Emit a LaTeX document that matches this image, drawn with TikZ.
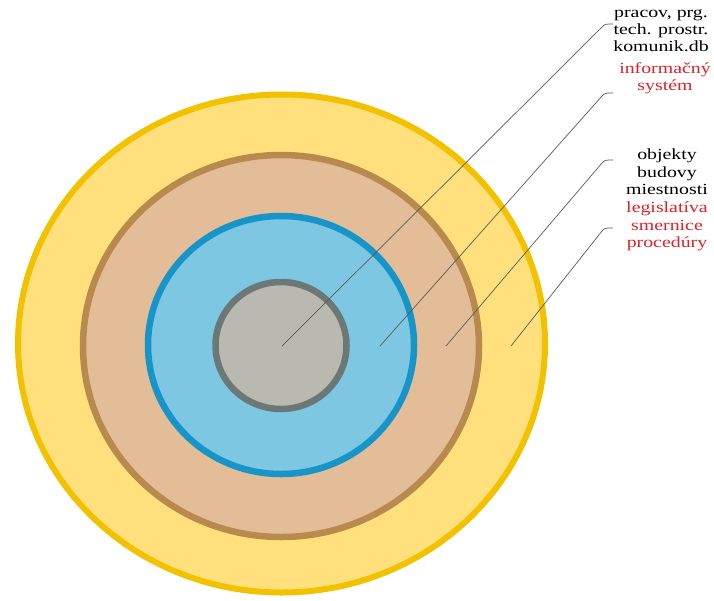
\documentclass[tikz,border=0pt]{standalone}
\usepackage{fontspec}
\setmainfont{Liberation Serif}[FakeStretch=1.28]
\definecolor{ylwfill}{HTML}{FFE07C}
\definecolor{ylwdraw}{HTML}{F2C200}
\definecolor{brnfill}{HTML}{E2BD98}
\definecolor{brndraw}{HTML}{B98A4E}
\definecolor{blufill}{HTML}{7DC7E2}
\definecolor{bludraw}{HTML}{1895C8}
\definecolor{gryfill}{HTML}{B9B9AF}
\definecolor{grydraw}{HTML}{6B7876}
\definecolor{lbred}{HTML}{E0202A}
\definecolor{leadcol}{HTML}{5A5A5A}
\tikzset{
  ring/.style={line width=#1},
  leader/.style={draw=leadcol, line width=0.7pt},
  lbl/.style={font=\fontsize{15.5}{17.4}\selectfont, align=center, inner sep=0pt, anchor=north}
}
\begin{document}
\begin{tikzpicture}[x=1pt,y=-1pt]
\useasboundingbox[fill=white] (0,0) rectangle (714,600);
\draw[ring=6pt, fill=ylwfill, draw=ylwdraw] (281.5,343.5) ellipse [x radius=263.5, y radius=249];
\draw[ring=6.5pt, fill=brnfill, draw=brndraw] (281,346) ellipse [x radius=198, y radius=191];
\draw[ring=6.5pt, fill=blufill, draw=bludraw] (281,345) ellipse [x radius=133, y radius=129];
\draw[ring=6.5pt, fill=gryfill, draw=grydraw] (281,345.5) ellipse [x radius=65.5, y radius=63.5];

\node[lbl] (t1) at (661,9) {pracov, prg.\\tech. prostr.\\komunik.db};
\node[lbl, text=lbred] (t2) at (665,62) {informačný\\systém};
\node[lbl] (t3) at (667,149) {objekty\\budovy\\miestnosti};
\node[lbl, text=lbred] (t4) at (667,202) {legislatíva\\smernice\\procedúry};

\coordinate (s1) at (282,346);
\coordinate (s2) at (380,346);
\coordinate (s3) at (446,346);
\coordinate (s4) at (511,346);
\coordinate (b1) at (602,27);
\coordinate (b2) at (602,96);
\coordinate (b3) at (602,163);
\coordinate (b4) at (602,231);
\coordinate (e1) at (613,24);
\coordinate (e2) at (613,93);
\coordinate (e3) at (613,160);
\coordinate (e4) at (613,228);
\foreach \i in {1,2,3,4}{
  \draw[leader] (s\i) -- (b\i) .. controls ([xshift=3,yshift=3]b\i) .. (e\i);
}
\end{tikzpicture}
\end{document}
